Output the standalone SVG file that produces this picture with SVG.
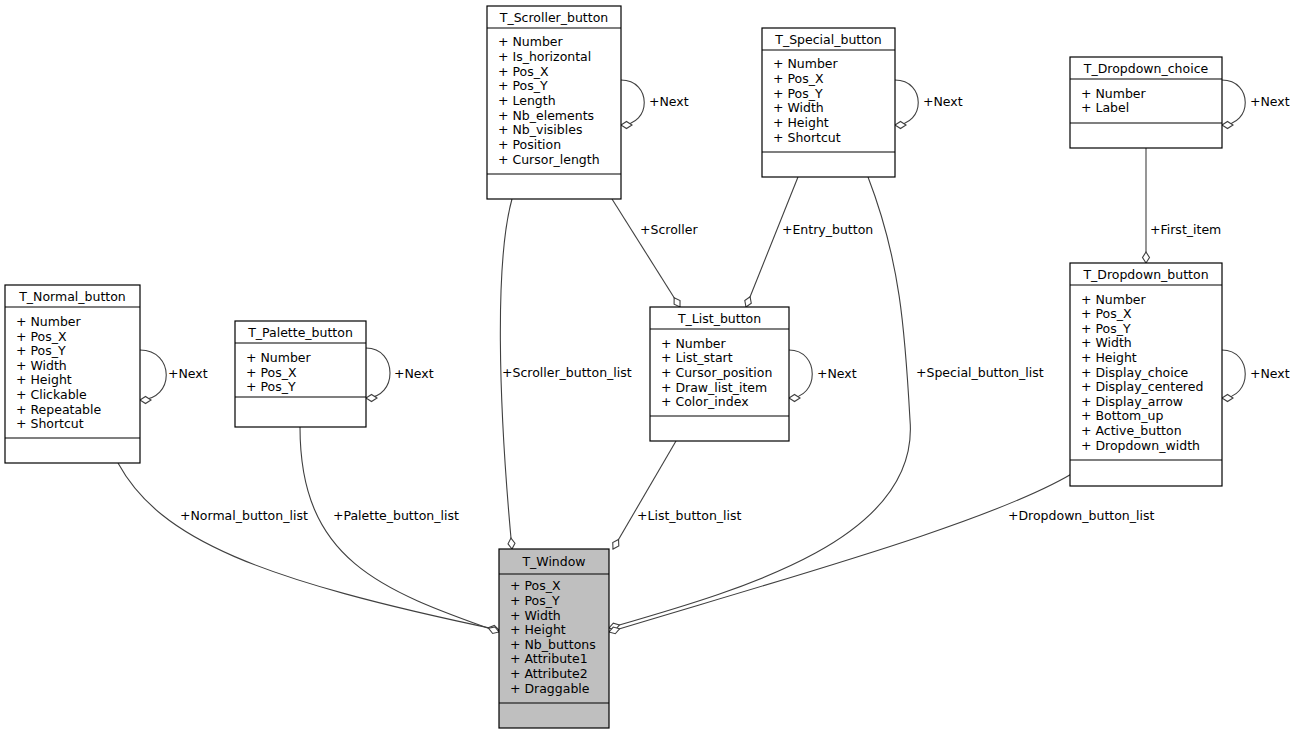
<svg xmlns="http://www.w3.org/2000/svg" width="1298" height="735" viewBox="0 0 1298 735">
<style>
text{font-family:"DejaVu Sans",sans-serif;font-size:12.5px;fill:#000}
.t{text-anchor:middle}
.b{fill:#fff;stroke:#000;stroke-width:1.2}
.w{fill:#bfbfbf;stroke:#000;stroke-width:1.2}
.l{stroke:#000;stroke-width:1.2}
.e{fill:none;stroke:#404040;stroke-width:1.1;marker-end:url(#d)}
</style>
<defs>
<marker id="d" markerUnits="userSpaceOnUse" markerWidth="14" markerHeight="10" refX="12" refY="5" orient="auto" viewBox="0 0 14 10">
<path d="M1,5 L6.5,1.5 L12,5 L6.5,8.5 Z" fill="#fff" stroke="#404040" stroke-width="1.1"/>
</marker>
</defs>
<rect width="1298" height="735" fill="#fff"/>
<g id="connectors">
<path class="e" d="M118,463 C160,540 260,580 499,630"/>
<text x="180" y="520">+Normal_button_list</text>
<path class="e" d="M300,427 C300,560 380,590 499,632"/>
<text x="333" y="520">+Palette_button_list</text>
<path class="e" d="M512,199 C495,260 498,400 512,549"/>
<text x="502" y="377">+Scroller_button_list</text>
<path class="e" d="M676,441 L613,549"/>
<text x="637" y="520">+List_button_list</text>
<path class="e" d="M868,177 C900,260 905,330 910,420 C920,540 740,590 609,628"/>
<text x="916" y="377">+Special_button_list</text>
<path class="e" d="M1078,470 C1000,520 780,580 609,632"/>
<text x="1008" y="520">+Dropdown_button_list</text>
<path class="e" d="M612,199 L680,307"/>
<text x="640" y="234">+Scroller</text>
<path class="e" d="M798,177 L746,307"/>
<text x="782" y="234">+Entry_button</text>
<path class="e" d="M1146,148 L1146,263"/>
<text x="1150" y="234">+First_item</text>
<path class="e" d="M140,350 C175,350 175,400 140,400"/>
<text x="168" y="378">+Next</text>
<path class="e" d="M366,348 C398,348 398,398 366,398"/>
<text x="394" y="378">+Next</text>
<path class="e" d="M621,80 C652,80 652,125 621,125"/>
<text x="649" y="106">+Next</text>
<path class="e" d="M895,80 C926,80 926,125 895,125"/>
<text x="923" y="106">+Next</text>
<path class="e" d="M1222,80 C1253,80 1253,125 1222,125"/>
<text x="1250" y="106">+Next</text>
<path class="e" d="M789,350 C820,350 820,398 789,398"/>
<text x="817" y="378">+Next</text>
<path class="e" d="M1222,350 C1253,350 1253,398 1222,398"/>
<text x="1250" y="378">+Next</text>
</g>
<g id="T_Normal_button">
<rect class="b" x="5" y="285" width="135" height="178"/>
<line class="l" x1="5" y1="307" x2="140" y2="307"/><line class="l" x1="5" y1="438" x2="140" y2="438"/>
<text class="t" x="72.5" y="301">T_Normal_button</text>
<text x="16" y="326">+ Number</text><text x="16" y="341">+ Pos_X</text><text x="16" y="355">+ Pos_Y</text><text x="16" y="370">+ Width</text><text x="16" y="384">+ Height</text><text x="16" y="399">+ Clickable</text><text x="16" y="414">+ Repeatable</text><text x="16" y="428">+ Shortcut</text>
</g>
<g id="T_Palette_button">
<rect class="b" x="235" y="321" width="131" height="106"/>
<line class="l" x1="235" y1="343" x2="366" y2="343"/><line class="l" x1="235" y1="397" x2="366" y2="397"/>
<text class="t" x="300.5" y="337">T_Palette_button</text>
<text x="246" y="362">+ Number</text><text x="246" y="377">+ Pos_X</text><text x="246" y="391">+ Pos_Y</text>
</g>
<g id="T_Scroller_button">
<rect class="b" x="487" y="6" width="134" height="193"/>
<line class="l" x1="487" y1="28" x2="621" y2="28"/><line class="l" x1="487" y1="174" x2="621" y2="174"/>
<text class="t" x="554" y="22">T_Scroller_button</text>
<text x="498" y="46">+ Number</text><text x="498" y="61">+ Is_horizontal</text><text x="498" y="76">+ Pos_X</text><text x="498" y="90">+ Pos_Y</text><text x="498" y="105">+ Length</text><text x="498" y="120">+ Nb_elements</text><text x="498" y="134">+ Nb_visibles</text><text x="498" y="149">+ Position</text><text x="498" y="164">+ Cursor_length</text>
</g>
<g id="T_Special_button">
<rect class="b" x="762" y="28" width="133" height="149"/>
<line class="l" x1="762" y1="50" x2="895" y2="50"/><line class="l" x1="762" y1="152" x2="895" y2="152"/>
<text class="t" x="828.5" y="44">T_Special_button</text>
<text x="773" y="68">+ Number</text><text x="773" y="83">+ Pos_X</text><text x="773" y="98">+ Pos_Y</text><text x="773" y="112">+ Width</text><text x="773" y="127">+ Height</text><text x="773" y="142">+ Shortcut</text>
</g>
<g id="T_Dropdown_choice">
<rect class="b" x="1070" y="57" width="152" height="91"/>
<line class="l" x1="1070" y1="79" x2="1222" y2="79"/><line class="l" x1="1070" y1="123" x2="1222" y2="123"/>
<text class="t" x="1146" y="73">T_Dropdown_choice</text>
<text x="1081" y="98">+ Number</text><text x="1081" y="112">+ Label</text>
</g>
<g id="T_Dropdown_button">
<rect class="b" x="1070" y="263" width="152" height="223"/>
<line class="l" x1="1070" y1="285" x2="1222" y2="285"/><line class="l" x1="1070" y1="460" x2="1222" y2="460"/>
<text class="t" x="1146" y="279">T_Dropdown_button</text>
<text x="1081" y="304">+ Number</text><text x="1081" y="318">+ Pos_X</text><text x="1081" y="333">+ Pos_Y</text><text x="1081" y="347">+ Width</text><text x="1081" y="362">+ Height</text><text x="1081" y="377">+ Display_choice</text><text x="1081" y="391">+ Display_centered</text><text x="1081" y="406">+ Display_arrow</text><text x="1081" y="420">+ Bottom_up</text><text x="1081" y="435">+ Active_button</text><text x="1081" y="450">+ Dropdown_width</text>
</g>
<g id="T_List_button">
<rect class="b" x="650" y="307" width="139" height="134"/>
<line class="l" x1="650" y1="329" x2="789" y2="329"/><line class="l" x1="650" y1="416" x2="789" y2="416"/>
<text class="t" x="719.5" y="323">T_List_button</text>
<text x="661" y="348">+ Number</text><text x="661" y="362">+ List_start</text><text x="661" y="377">+ Cursor_position</text><text x="661" y="392">+ Draw_list_item</text><text x="661" y="406">+ Color_index</text>
</g>
<g id="T_Window">
<rect class="w" x="499" y="549" width="110" height="179"/>
<line class="l" x1="499" y1="574" x2="609" y2="574"/><line class="l" x1="499" y1="703" x2="609" y2="703"/>
<text class="t" x="554" y="566">T_Window</text>
<text x="510" y="590">+ Pos_X</text><text x="510" y="605">+ Pos_Y</text><text x="510" y="620">+ Width</text><text x="510" y="634">+ Height</text><text x="510" y="649">+ Nb_buttons</text><text x="510" y="663">+ Attribute1</text><text x="510" y="678">+ Attribute2</text><text x="510" y="693">+ Draggable</text>
</g>
</svg>
